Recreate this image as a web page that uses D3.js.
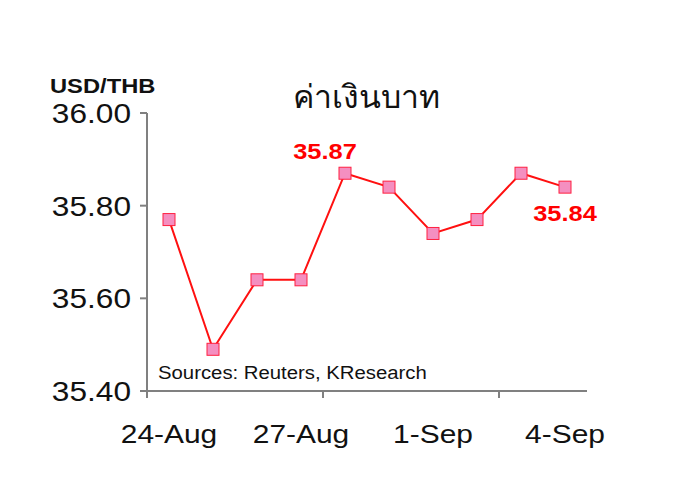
<!DOCTYPE html>
<html><head><meta charset="utf-8">
<script src="https://cdnjs.cloudflare.com/ajax/libs/d3/7.8.5/d3.min.js"></script>
<style>body{margin:0;background:#fff}svg{display:block;font-family:Arial,"Liberation Sans",sans-serif}</style>
</head><body><svg id="c" width="700" height="504"></svg>
<script>
const categories=["24-Aug","25-Aug","26-Aug","27-Aug","28-Aug","31-Aug","1-Sep","2-Sep","3-Sep","4-Sep"];
const values=[35.77,35.49,35.64,35.64,35.87,35.84,35.74,35.77,35.87,35.84];
const yTicks=[35.40,35.60,35.80,36.00];
const xLabels=["24-Aug","27-Aug","1-Sep","4-Sep"];
const annotations=[{i:4,text:"35.87"},{i:9,text:"35.84"}];

const svg=d3.select("#c");
const x=d3.scaleBand().domain(categories).range([147,587]);
const y=d3.scaleLinear().domain([35.40,36.00]).range([391,113]);
const grey="#808080";
const SX=1.13;
function txt(px,py,s,opts){
  const t=svg.append("text").attr("transform",`translate(${px},${py}) scale(${opts.sx||SX},1)`)
    .attr("font-size",opts.size).attr("fill",opts.fill||"#111").text(s);
  if(opts.anchor) t.attr("text-anchor",opts.anchor);
  if(opts.bold) t.attr("font-weight","bold");
  if(opts.dy) t.attr("dy",opts.dy);
  return t;
}

// y axis
svg.append("line").attr("x1",147).attr("x2",147).attr("y1",y(36.0)).attr("y2",y(35.4)).attr("stroke",grey).attr("stroke-width",2);
yTicks.forEach(t=>{
  svg.append("line").attr("x1",140).attr("x2",147).attr("y1",y(t)).attr("y2",y(t)).attr("stroke",grey).attr("stroke-width",2);
  txt(131,y(t),t.toFixed(2),{size:28,anchor:"end",dy:"0.36em"});
});
// x axis
svg.append("line").attr("x1",140).attr("x2",587).attr("y1",391).attr("y2",391).attr("stroke",grey).attr("stroke-width",2);
[0,4,8].forEach(k=>{
  const px=x(categories[k]);
  svg.append("line").attr("x1",px).attr("x2",px).attr("y1",391).attr("y2",398).attr("stroke",grey).attr("stroke-width",2);
});
xLabels.forEach(l=>{
  txt(x(l)+x.bandwidth()/2,443,l,{size:26.5,anchor:"middle"});
});

// line
const cx=(d,i)=>x(categories[i])+x.bandwidth()/2;
svg.append("path").datum(values).attr("fill","none").attr("stroke","#ff1010").attr("stroke-width",2)
  .attr("d",d3.line().x((d,i)=>cx(d,i)).y(d=>y(d)));
svg.selectAll("rect.m").data(values).join("rect").attr("class","m")
  .attr("x",(d,i)=>cx(d,i)-6).attr("y",d=>y(d)-6).attr("width",12).attr("height",12)
  .attr("fill","#f48fc0").attr("stroke","#ff2040").attr("stroke-width",1);

// annotations
txt(cx(0,annotations[0].i)-20,159,annotations[0].text,{size:22.5,anchor:"middle",bold:true,fill:"#ff0000"});
txt(cx(0,annotations[1].i),221,annotations[1].text,{size:22.5,anchor:"middle",bold:true,fill:"#ff0000"});

// titles
txt(50,93,"USD/THB",{size:21,bold:true});
txt(366,108,"ค่าเงินบาท",{size:32,anchor:"middle",sx:1});
txt(158,379,"Sources: Reuters, KResearch",{size:18});
</script></body></html>
